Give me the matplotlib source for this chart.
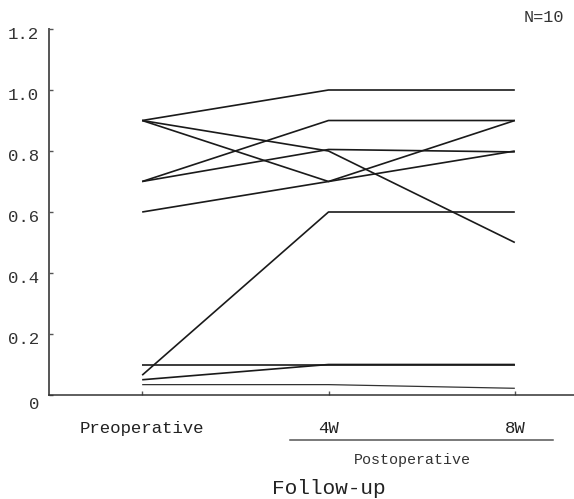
import matplotlib
matplotlib.use("Agg")
import matplotlib.pyplot as plt
from matplotlib.transforms import ScaledTranslation
from matplotlib.lines import Line2D

# Data
timepoints = ["Preoperative", "4W", "8W"]
patient_values = [
    [0.90, 1.00, 1.00],
    [0.90, 0.80, 0.50],
    [0.90, 0.70, 0.90],
    [0.70, 0.90, 0.90],
    [0.70, 0.805, 0.797],
    [0.60, 0.70, 0.80],
    [0.065, 0.60, 0.60],
    [0.10, 0.10, 0.10],
    [0.05, 0.10, 0.10],
    [0.034, 0.034, 0.022],
]
y_ticks = [0, 0.2, 0.4, 0.6, 0.8, 1.0, 1.2]
y_tick_labels = ["0", "0.2", "0.4", "0.6", "0.8", "1.0", "1.2"]
n_label = "N=10"
group_label = "Postoperative"
x_title = "Follow-up"

FONT = ["Liberation Mono", "DejaVu Sans Mono"]
plt.rcParams["font.family"] = FONT

W, H = 574, 499
fig = plt.figure(figsize=(W / 100, H / 100), dpi=100)
ax = fig.add_axes([49 / W, (H - 395) / H, (608 - 49) / W, (395 - 29) / H])

x = list(range(len(timepoints)))
for i, vals in enumerate(patient_values):
    if i == len(patient_values) - 1:
        ax.plot(x, vals, color="#333333", lw=0.9, solid_capstyle="butt")
    else:
        ax.plot(x, vals, color="#1a1a1a", lw=1.2, solid_capstyle="butt")

ax.set_xlim(-0.5, 2.5)
ax.set_ylim(0, 1.2)
ax.spines["top"].set_visible(False)
ax.spines["right"].set_visible(False)
ax.spines["left"].set_color("#555555")
ax.spines["left"].set_linewidth(1.4)
ax.spines["bottom"].set_color("#333333")
ax.spines["bottom"].set_linewidth(1.1)

ax.set_xticks(x)
ax.set_xticklabels(timepoints, fontsize=12.5, color="#222222")
ax.set_yticks(y_ticks)
ax.set_yticklabels(y_tick_labels, fontsize=12.5, color="#333333")
ax.tick_params(axis="x", direction="in", length=3, width=1, color="#555555", pad=19)
ax.tick_params(axis="y", direction="in", length=3, width=1, color="#555555", pad=7)

for lbl in ax.get_yticklabels():
    dy = -8 if lbl.get_text() == "0" else -4
    lbl.set_transform(lbl.get_transform() + ScaledTranslation(0, dy / 100, fig.dpi_scale_trans))

# Underline for postoperative group
fig.add_artist(Line2D([290 / W, 553 / W], [(H - 439.5) / H] * 2,
                      transform=fig.transFigure, color="#555555", lw=1.1))
fig.text(412 / W, (H - 460) / H, group_label, ha="center", va="center",
         fontsize=10.8, color="#333333")
fig.text(328.6 / W, (H - 488) / H, x_title, ha="center", va="center",
         fontsize=15.2, color="#222222")
fig.text(543.7 / W, (H - 17) / H, n_label, ha="center", va="center",
         fontsize=12.2, color="#333333")

fig.savefig("out.png", dpi=100)
